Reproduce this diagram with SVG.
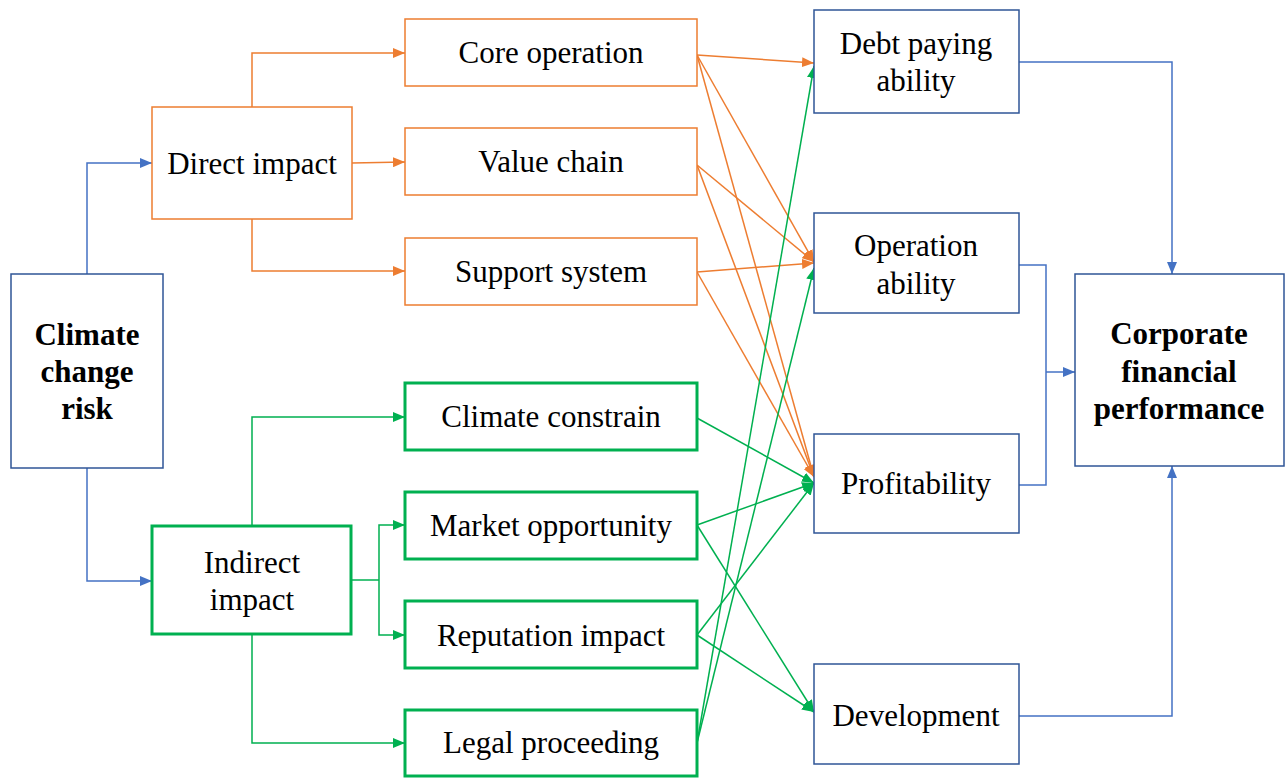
<svg xmlns="http://www.w3.org/2000/svg" width="1285" height="778" viewBox="0 0 1285 778">
<style>
  text { font-family: "Liberation Serif", "Times New Roman", serif; font-size: 31px; fill: #000; text-anchor: middle; }
  .b { font-weight: bold; }
  .nb { fill: #fff; stroke: #2F5597; stroke-width: 1.5; }
  .no { fill: #fff; stroke: #ED7D31; stroke-width: 1.5; }
  .ng { fill: #fff; stroke: #00B050; stroke-width: 3; }
  .cb { fill: none; stroke: #4472C4; stroke-width: 1.5; }
  .co { fill: none; stroke: #ED7D31; stroke-width: 1.5; }
  .cg { fill: none; stroke: #00B050; stroke-width: 1.5; }
</style>
<defs>
  <marker id="ab" viewBox="0 0 12 10" refX="12" refY="5" markerWidth="12" markerHeight="10" markerUnits="userSpaceOnUse" orient="auto"><path d="M0,0 L12,5 L0,10 z" fill="#4472C4"/></marker>
  <marker id="ao" viewBox="0 0 12 10" refX="12" refY="5" markerWidth="12" markerHeight="10" markerUnits="userSpaceOnUse" orient="auto"><path d="M0,0 L12,5 L0,10 z" fill="#ED7D31"/></marker>
  <marker id="ag" viewBox="0 0 12 10" refX="12" refY="5" markerWidth="12" markerHeight="10" markerUnits="userSpaceOnUse" orient="auto"><path d="M0,0 L12,5 L0,10 z" fill="#00B050"/></marker>
</defs>
<rect width="1285" height="778" fill="#fff"/>
<g id="connectors">
  <path class="cb" d="M87,274 V163 H152" marker-end="url(#ab)"/>
  <path class="cb" d="M87,468 V581 H152" marker-end="url(#ab)"/>
  <path class="co" d="M252,107 V53 H405" marker-end="url(#ao)"/>
  <path class="co" d="M352,163 L405,162" marker-end="url(#ao)"/>
  <path class="co" d="M252,219 V271 H405" marker-end="url(#ao)"/>
  <path class="cg" d="M252,526 V417 H405" marker-end="url(#ag)"/>
  <path class="cg" d="M351,580 H379"/>
  <path class="cg" d="M379,580 V525 H405" marker-end="url(#ag)"/>
  <path class="cg" d="M379,580 V635 H405" marker-end="url(#ag)"/>
  <path class="cg" d="M252,634 V743 H405" marker-end="url(#ag)"/>
  <path class="co" d="M697,55 L814,63" marker-end="url(#ao)"/>
  <path class="co" d="M697,55 L814,262" marker-end="url(#ao)"/>
  <path class="co" d="M697,55 L814,477" marker-end="url(#ao)"/>
  <path class="co" d="M697,165 L814,262" marker-end="url(#ao)"/>
  <path class="co" d="M697,165 L814,477" marker-end="url(#ao)"/>
  <path class="co" d="M697,272 L814,263" marker-end="url(#ao)"/>
  <path class="co" d="M697,272 L814,477" marker-end="url(#ao)"/>
  <path class="cg" d="M697,418 L814,483" marker-end="url(#ag)"/>
  <path class="cg" d="M697,525 L814,483" marker-end="url(#ag)"/>
  <path class="cg" d="M697,525 L814,712" marker-end="url(#ag)"/>
  <path class="cg" d="M697,635 L814,483" marker-end="url(#ag)"/>
  <path class="cg" d="M697,635 L814,712" marker-end="url(#ag)"/>
  <path class="cg" d="M697,743 L814,66" marker-end="url(#ag)"/>
  <path class="cg" d="M697,743 L814,268" marker-end="url(#ag)"/>
  <path class="cb" d="M1019,62 H1172 V274" marker-end="url(#ab)"/>
  <path class="cb" d="M1019,265 H1046 V485 H1019"/>
  <path class="cb" d="M1046,372 H1075" marker-end="url(#ab)"/>
  <path class="cb" d="M1019,716 H1172 V466" marker-end="url(#ab)"/>
</g>
<g id="climate-risk"><rect class="nb" x="11" y="274" width="152" height="194"/><text class="b" x="87" y="345">Climate</text><text class="b" x="87" y="382">change</text><text class="b" x="87" y="419">risk</text></g>
<g id="direct-impact"><rect class="no" x="152" y="107" width="200" height="112"/><text x="252" y="174">Direct impact</text></g>
<g id="indirect-impact"><rect class="ng" x="152" y="526" width="199" height="108"/><text x="252" y="573">Indirect</text><text x="252" y="610">impact</text></g>
<g id="core-operation"><rect class="no" x="405" y="19" width="292" height="67"/><text x="551" y="63">Core operation</text></g>
<g id="value-chain"><rect class="no" x="405" y="128" width="292" height="67"/><text x="551" y="172">Value chain</text></g>
<g id="support-system"><rect class="no" x="405" y="238" width="292" height="67"/><text x="551" y="282">Support system</text></g>
<g id="climate-constrain"><rect class="ng" x="405" y="383" width="292" height="67"/><text x="551" y="427">Climate constrain</text></g>
<g id="market-opportunity"><rect class="ng" x="405" y="492" width="292" height="67"/><text x="551" y="536">Market opportunity</text></g>
<g id="reputation-impact"><rect class="ng" x="405" y="601" width="292" height="67"/><text x="551" y="646">Reputation impact</text></g>
<g id="legal-proceeding"><rect class="ng" x="405" y="710" width="292" height="66"/><text x="551" y="753">Legal proceeding</text></g>
<g id="debt-paying"><rect class="nb" x="814" y="10" width="205" height="103"/><text x="916" y="54">Debt paying</text><text x="916" y="91">ability</text></g>
<g id="operation-ability"><rect class="nb" x="814" y="213" width="205" height="100"/><text x="916" y="256">Operation</text><text x="916" y="294">ability</text></g>
<g id="profitability"><rect class="nb" x="814" y="434" width="205" height="99"/><text x="916" y="494">Profitability</text></g>
<g id="development"><rect class="nb" x="814" y="664" width="205" height="100"/><text x="916" y="726">Development</text></g>
<g id="corporate-performance"><rect class="nb" x="1075" y="274" width="209" height="192"/><text class="b" x="1179" y="344">Corporate</text><text class="b" x="1179" y="382">financial</text><text class="b" x="1179" y="419">performance</text></g>
</svg>
